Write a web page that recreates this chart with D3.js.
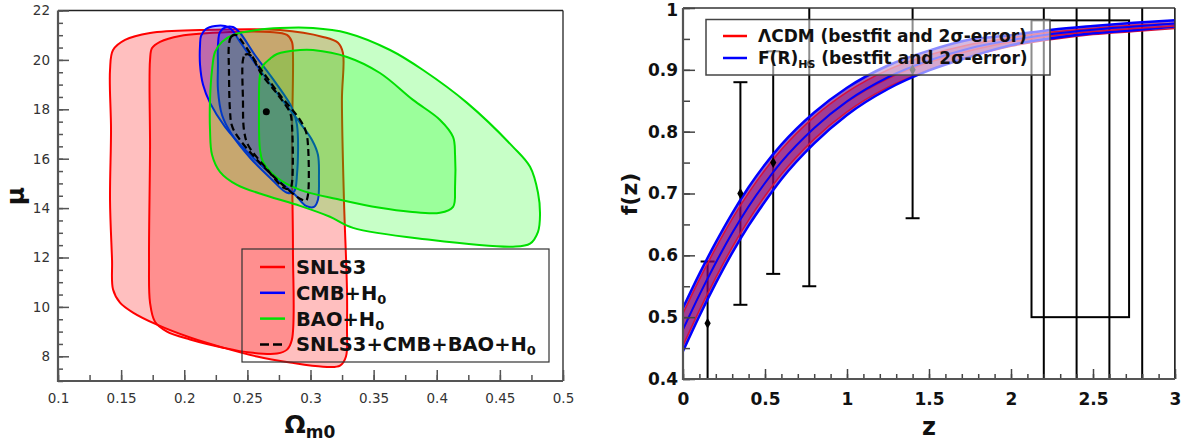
<!DOCTYPE html>
<html>
<head>
<meta charset="utf-8">
<script src="https://cdn.jsdelivr.net/npm/d3@7"></script>
<style>
body{margin:0;background:#fff;}
svg{display:block;font-family:"DejaVu Sans",sans-serif;}
</style>
</head>
<body>
<div id="chart"></div>
<script>
// ---------- left panel: confidence contours in the (Omega_m0, mu) plane
var snls3Outer = [[0.1412,19.59],[0.1436,20.40],[0.1531,20.81],[0.1729,21.09],[0.2125,21.21],[0.2758,21.21],
  [0.3099,20.93],[0.3218,20.69],[0.3257,20.28],[0.3249,18.38],[0.3265,14.34],[0.3289,10.70],[0.3289,9.20],
  [0.3281,7.99],[0.3234,7.62],[0.3099,7.58],[0.2838,7.75],[0.2576,7.99],[0.2307,8.35],[0.2046,8.76],
  [0.1784,9.28],[0.1594,9.77],[0.1491,10.17],[0.1436,10.70],[0.1428,11.91],[0.1412,14.34],[0.1420,17.17]];
var snls3Inner = [[0.1729,20.00],[0.1745,20.48],[0.1808,20.73],[0.1966,20.97],[0.2362,21.13],[0.2679,21.13],
  [0.2814,21.01],[0.2853,20.73],[0.2861,20.20],[0.2853,16.36],[0.2861,12.32],[0.2853,8.68],[0.2814,8.27],
  [0.2735,8.11],[0.2521,8.15],[0.2307,8.35],[0.2046,8.68],[0.1863,9.00],[0.1768,9.40],[0.1729,10.17],
  [0.1721,11.91],[0.1729,16.36]];
var cmbOuter = [[0.2125,20.60],[0.2133,20.97],[0.2172,21.25],[0.2244,21.37],[0.2323,21.37],[0.2370,21.25],
  [0.2442,20.73],[0.2600,19.59],[0.2758,18.50],[0.2917,17.45],[0.3012,16.76],[0.3059,16.16],[0.3067,15.23],
  [0.3059,14.34],[0.3028,14.05],[0.2964,14.09],[0.2877,14.54],[0.2719,15.23],[0.2521,16.16],[0.2323,17.29],
  [0.2204,18.26],[0.2149,18.99],[0.2125,19.80]];
var cmbInner = [[0.2267,20.60],[0.2283,21.13],[0.2331,21.33],[0.2386,21.33],[0.2442,21.09],[0.2560,20.20],
  [0.2719,19.11],[0.2853,18.06],[0.2893,17.37],[0.2893,15.35],[0.2869,14.66],[0.2814,14.62],[0.2679,15.23],
  [0.2521,16.04],[0.2378,16.97],[0.2299,17.77],[0.2267,18.79],[0.2267,19.80]];
var baoOuter = [[0.2204,17.17],[0.2204,18.38],[0.2220,19.59],[0.2244,20.32],[0.2299,20.73],[0.2386,21.01],
  [0.2576,21.21],[0.2758,21.29],[0.3020,21.29],[0.3289,21.09],[0.3630,20.40],[0.3891,19.59],[0.4240,18.26],
  [0.4604,16.48],[0.4739,15.67],[0.4802,14.62],[0.4818,13.73],[0.4802,13.04],[0.4739,12.56],[0.4604,12.44],
  [0.3947,12.72],[0.3337,13.20],[0.3154,13.65],[0.2917,14.09],[0.2655,14.50],[0.2418,14.94],[0.2283,15.47],
  [0.2220,16.16]];
var baoInner = [[0.2600,19.39],[0.2624,19.76],[0.2679,20.04],[0.2735,20.24],[0.2917,20.40],[0.3020,20.40],
  [0.3289,20.12],[0.3550,19.47],[0.3812,18.38],[0.4026,17.57],[0.4129,16.88],[0.4145,16.16],[0.4145,14.86],
  [0.4129,14.05],[0.4026,13.81],[0.3788,13.85],[0.3550,14.01],[0.3234,14.34],[0.2917,14.74],[0.2735,15.23],
  [0.2624,15.87],[0.2600,16.36],[0.2592,17.98]];
var jointOuter = [[0.2354,20.60],[0.2370,20.93],[0.2410,21.01],[0.2465,20.69],[0.2600,19.67],[0.2758,18.58],
  [0.2917,17.57],[0.2964,17.09],[0.2980,16.56],[0.2980,14.54],[0.2964,14.30],[0.2917,14.38],[0.2798,14.86],
  [0.2600,15.83],[0.2442,16.76],[0.2378,17.33],[0.2362,17.98],[0.2354,19.59]];
var jointInner = [[0.2465,20.00],[0.2481,20.20],[0.2521,20.20],[0.2616,19.39],[0.2743,18.58],[0.2838,17.86],
  [0.2853,17.37],[0.2853,15.02],[0.2838,14.78],[0.2790,14.82],[0.2640,15.67],[0.2505,16.56],[0.2473,17.17],
  [0.2465,18.38]];
var bestFit = [0.265, 17.9];
var leftXTicks = [0.1, 0.15, 0.2, 0.25, 0.3, 0.35, 0.4, 0.45, 0.5];
var leftYTicks = [8, 10, 12, 14, 16, 18, 20, 22];
var leftLegend = ["SNLS3", "CMB+H", "BAO+H", "SNLS3+CMB+BAO+H"];

// ---------- right panel: growth rate f(z)
var zGrid  = [0, 0.1, 0.2, 0.3, 0.4, 0.5, 0.6, 0.8, 1.0, 1.25, 1.5, 1.75, 2.0, 2.25, 2.5, 2.75, 3.0];
var fLcdm  = [0.480,0.536,0.588,0.636,0.679,0.717,0.751,0.806,0.848,0.886,0.912,0.931,0.945,0.955,0.962,0.967,0.971];
var errLcdm= [0.026,0.025,0.024,0.023,0.022,0.021,0.020,0.018,0.016,0.014,0.012,0.010,0.007,0.006,0.005,0.005,0.004];
var fHS    = [0.480,0.536,0.588,0.636,0.679,0.717,0.751,0.806,0.849,0.888,0.915,0.935,0.948,0.958,0.965,0.970,0.975];
var errHS  = [0.035,0.034,0.033,0.032,0.031,0.030,0.028,0.025,0.022,0.019,0.016,0.014,0.008,0.007,0.006,0.006,0.005];
var obsZ   = [0.15, 0.35, 0.55, 0.77, 1.4, 2.2, 2.4, 2.6, 2.8, 3.0];
var obsF   = [0.49, 0.70, 0.75, 0.91, 0.90, 1.05, 1.13, 1.66, 1.43, 1.30];
var obsErr = [0.10, 0.18, 0.18, 0.36, 0.24, 1.20, 1.07, 1.35, 1.34, 1.50];
var lyaZ = [2.125, 2.72], lyaF = 0.74, lyaErr = 0.24;
var rightXTicks = [0, 0.5, 1, 1.5, 2, 2.5, 3];
var rightYTicks = [0.4, 0.5, 0.6, 0.7, 0.8, 0.9, 1];

var W = 1187, H = 444;
var svg = d3.select('#chart').append('svg').attr('width', W).attr('height', H);

function addAxis(orient, scale, pos, ticks, size, fmt, pad, opts){
    var a = orient(scale).tickValues(ticks).tickSize(-size).tickPadding(pad)
        .tickFormat(fmt || function(){ return ''; });
    var g = svg.append('g').attr('transform', pos).call(a);
    g.select('.domain').remove();
    g.attr('color', opts.tick).attr('font-family', '"DejaVu Sans", sans-serif')
        .attr('font-size', opts.size).attr('font-weight', opts.weight);
    g.selectAll('line').attr('stroke-width', 1.5);
    g.selectAll('text').attr('fill', opts.text);
    return g;
}
var fmtNum = function(d){ return String(+d.toFixed(3)); };

// ================= LEFT =================
var xL = d3.scaleLinear().domain([0.1, 0.5]).range([58, 563]);
var yL = d3.scaleLinear().domain([7, 22]).range([381, 10.5]);
var contour = d3.line().x(function(d){ return xL(d[0]); }).y(function(d){ return yL(d[1]); })
    .curve(d3.curveCatmullRomClosed.alpha(0.5));

var layers = [
    {pts: snls3Outer, fill: 'rgba(255,0,0,0.25)', stroke: '#ff0000'},
    {pts: snls3Inner, fill: 'rgba(255,0,0,0.25)', stroke: '#ff0000'},
    {pts: cmbOuter,   fill: 'rgba(0,0,255,0.25)', stroke: '#0000ff'},
    {pts: cmbInner,   fill: 'rgba(0,0,255,0.25)', stroke: '#0000ff'},
    {pts: baoOuter,   fill: 'rgba(0,255,0,0.22)', stroke: '#00e000'},
    {pts: baoInner,   fill: 'rgba(0,255,0,0.22)', stroke: '#00e000'}
];
var left = svg.append('g');
layers.forEach(function(l){
    left.append('path').attr('d', contour(l.pts)).attr('fill', l.fill)
        .attr('stroke', l.stroke).attr('stroke-width', 2);
});
[jointOuter, jointInner].forEach(function(p){
    left.append('path').attr('d', contour(p)).attr('fill', 'none')
        .attr('stroke', '#000').attr('stroke-width', 2.2).attr('stroke-dasharray', '7,4');
});
left.append('circle').attr('cx', xL(bestFit[0])).attr('cy', yL(bestFit[1])).attr('r', 3.5).attr('fill', '#000');

// frame
left.append('line').attr('x1', 58).attr('x2', 563).attr('y1', 10.5).attr('y2', 10.5).attr('stroke', '#222').attr('stroke-width', 1.3);
left.append('line').attr('x1', 563).attr('x2', 563).attr('y1', 10.5).attr('y2', 381).attr('stroke', '#222').attr('stroke-width', 1.3);

var leftOpts = {tick: '#555', text: '#333', size: 13.5, weight: 'normal'};
addAxis(d3.axisBottom, xL, 'translate(0,381)', d3.range(0.1, 0.5001, 0.025), 6, null, 12, leftOpts);
addAxis(d3.axisBottom, xL, 'translate(0,381)', leftXTicks, 11, fmtNum, 12, leftOpts);
addAxis(d3.axisLeft, yL, 'translate(58,0)', d3.range(7, 22.001, 0.5), 5, null, 8, leftOpts);
addAxis(d3.axisLeft, yL, 'translate(58,0)', leftYTicks, 11, fmtNum, 8, leftOpts);
left.append('line').attr('x1', 58).attr('x2', 58).attr('y1', 10.5).attr('y2', 382).attr('stroke', '#555').attr('stroke-width', 2.2);
left.append('line').attr('x1', 57).attr('x2', 563).attr('y1', 381).attr('y2', 381).attr('stroke', '#555').attr('stroke-width', 2.2);

// axis titles
var xt = svg.append('text').attr('x', 310).attr('y', 433).attr('text-anchor', 'middle')
    .attr('font-weight', 'bold').attr('font-size', 25).attr('fill', '#111');
xt.append('tspan').text('Ω');
xt.append('tspan').attr('font-size', 17).attr('dy', 5).text('m0');
svg.append('text').attr('transform', 'translate(24,196) rotate(-90)').attr('text-anchor', 'middle')
    .attr('font-weight', 'bold').attr('font-size', 25).attr('fill', '#111').text('μ');

// legend
var legL = svg.append('g');
legL.append('rect').attr('x', 242).attr('y', 249).attr('width', 307).attr('height', 113)
    .attr('fill', 'none').attr('stroke', '#333').attr('stroke-width', 1.2);
var legColors = ['#ff0000', '#0000ff', '#00e000', '#000'];
leftLegend.forEach(function(t, i){
    var yy = 267 + i * 25.8;
    legL.append('line').attr('x1', 260).attr('x2', 285).attr('y1', yy).attr('y2', yy)
        .attr('stroke', legColors[i]).attr('stroke-width', 2.5)
        .attr('stroke-dasharray', i === 3 ? '9,4' : null);
    var tx = legL.append('text').attr('x', 296).attr('y', yy + 7).attr('font-weight', 'bold')
        .attr('font-size', 19.5).attr('fill', '#111').text(t);
    if (i > 0) tx.append('tspan').attr('font-size', 13).attr('dy', 4).text('0');
});

// ================= RIGHT =================
var xR = d3.scaleLinear().domain([0, 3]).range([683, 1175]);
var yR = d3.scaleLinear().domain([0.4, 1]).range([379, 8]);
svg.append('clipPath').attr('id', 'clipR').append('rect')
    .attr('x', 683).attr('y', 8).attr('width', 492).attr('height', 371);
var right = svg.append('g').attr('clip-path', 'url(#clipR)');

// error bars
obsZ.forEach(function(z, i){
    var hi = obsF[i] + obsErr[i], lo = obsF[i] - obsErr[i];
    right.append('line').attr('x1', xR(z)).attr('x2', xR(z)).attr('y1', yR(hi)).attr('y2', yR(lo))
        .attr('stroke', '#000').attr('stroke-width', 2);
    [hi, lo].forEach(function(v){
        right.append('line').attr('x1', xR(z) - 7).attr('x2', xR(z) + 7).attr('y1', yR(v)).attr('y2', yR(v))
            .attr('stroke', '#000').attr('stroke-width', 2);
    });
});
right.append('rect').attr('x', xR(lyaZ[0])).attr('y', yR(lyaF + lyaErr))
    .attr('width', xR(lyaZ[1]) - xR(lyaZ[0])).attr('height', yR(lyaF - lyaErr) - yR(lyaF + lyaErr))
    .attr('fill', 'none').attr('stroke', '#000').attr('stroke-width', 2);

// bands
var idx = d3.range(zGrid.length);
function band(f, e){
    return d3.area().x(function(i){ return xR(zGrid[i]); })
        .y0(function(i){ return yR(f[i] - e[i]); }).y1(function(i){ return yR(f[i] + e[i]); })
        .curve(d3.curveMonotoneX)(idx);
}
function curve(f, s){
    return d3.line().x(function(i){ return xR(zGrid[i]); })
        .y(function(i){ return yR(f[i] + s); }).curve(d3.curveMonotoneX)(idx);
}
function edge(f, e, sgn){
    return d3.line().x(function(i){ return xR(zGrid[i]); })
        .y(function(i){ return yR(f[i] + sgn * e[i]); }).curve(d3.curveMonotoneX)(idx);
}
right.append('path').attr('d', band(fHS, errHS)).attr('fill', 'rgba(100,0,140,0.6)');
right.append('path').attr('d', band(fLcdm, errLcdm)).attr('fill', 'rgba(160,0,90,0.4)');
[1, -1].forEach(function(s){
    right.append('path').attr('d', edge(fLcdm, errLcdm, s)).attr('fill', 'none')
        .attr('stroke', '#d4103c').attr('stroke-width', 1.5);
    right.append('path').attr('d', edge(fHS, errHS, s)).attr('fill', 'none')
        .attr('stroke', '#0000ff').attr('stroke-width', 2.5);
});
right.append('path').attr('d', curve(fLcdm, 0)).attr('fill', 'none').attr('stroke', '#d4103c').attr('stroke-width', 1.5);
right.append('path').attr('d', curve(fHS, 0)).attr('fill', 'none').attr('stroke', '#0000ff').attr('stroke-width', 2);

// points
right.selectAll('.pt').data(obsZ).enter().append('path').attr('class', 'pt')
    .attr('d', d3.symbol(d3.symbolDiamond, 34))
    .attr('transform', function(z, i){ return 'translate(' + xR(z) + ',' + yR(obsF[i]) + ')'; })
    .attr('fill', '#000');

// legend
var legR = svg.append('g');
legR.append('rect').attr('x', 706).attr('y', 19.5).attr('width', 344).attr('height', 55.5)
    .attr('fill', '#fff').attr('fill-opacity', 0.55).attr('stroke', '#444').attr('stroke-width', 1.5);
legR.append('line').attr('x1', 723).attr('x2', 747).attr('y1', 36).attr('y2', 36).attr('stroke', '#ff0000').attr('stroke-width', 2.5);
legR.append('line').attr('x1', 723).attr('x2', 747).attr('y1', 58).attr('y2', 58).attr('stroke', '#0000ff').attr('stroke-width', 2.5);
legR.append('text').attr('x', 758).attr('y', 42).attr('font-weight', 'bold').attr('font-size', 17)
    .attr('fill', '#111').text('ΛCDM (bestfit and 2σ-error)');
var t2 = legR.append('text').attr('x', 758).attr('y', 64).attr('font-weight', 'bold').attr('font-size', 17).attr('fill', '#111');
t2.append('tspan').text('F(R)');
t2.append('tspan').attr('font-size', 11).attr('dy', 4).text('HS');
t2.append('tspan').attr('dy', -4).text(' (bestfit and 2σ-error)');

// frame and axes
svg.append('line').attr('x1', 683).attr('x2', 1175).attr('y1', 8).attr('y2', 8).attr('stroke', '#333').attr('stroke-width', 1.5);
svg.append('line').attr('x1', 1175).attr('x2', 1175).attr('y1', 8).attr('y2', 379).attr('stroke', '#333').attr('stroke-width', 1.5);
var rightOpts = {tick: '#444', text: '#111', size: 17, weight: 'bold'};
addAxis(d3.axisBottom, xR, 'translate(0,379)', d3.range(0, 3.001, 0.1), 5, null, 14, rightOpts);
addAxis(d3.axisBottom, xR, 'translate(0,379)', rightXTicks, 10, fmtNum, 14, rightOpts);
addAxis(d3.axisLeft, yR, 'translate(683,0)', d3.range(0.4, 1.001, 0.05), 7, null, 5, rightOpts);
var yAxR = addAxis(d3.axisLeft, yR, 'translate(683,0)', rightYTicks, 12, fmtNum, 5, rightOpts);
yAxR.selectAll('text').filter(function(d){ return d === 1; }).attr('dy', '0.45em');
svg.append('line').attr('x1', 683).attr('x2', 683).attr('y1', 8).attr('y2', 380).attr('stroke', '#555').attr('stroke-width', 2.2);
svg.append('line').attr('x1', 682).attr('x2', 1175).attr('y1', 379).attr('y2', 379).attr('stroke', '#555').attr('stroke-width', 2.2);

svg.append('text').attr('x', 929).attr('y', 435).attr('text-anchor', 'middle').attr('font-weight', 'bold')
    .attr('font-size', 24).attr('fill', '#111').text('z');
svg.append('text').attr('transform', 'translate(637,194) rotate(-90)').attr('text-anchor', 'middle')
    .attr('font-weight', 'bold').attr('font-size', 22).attr('fill', '#111').text('f(z)');
</script>
</body>
</html>
